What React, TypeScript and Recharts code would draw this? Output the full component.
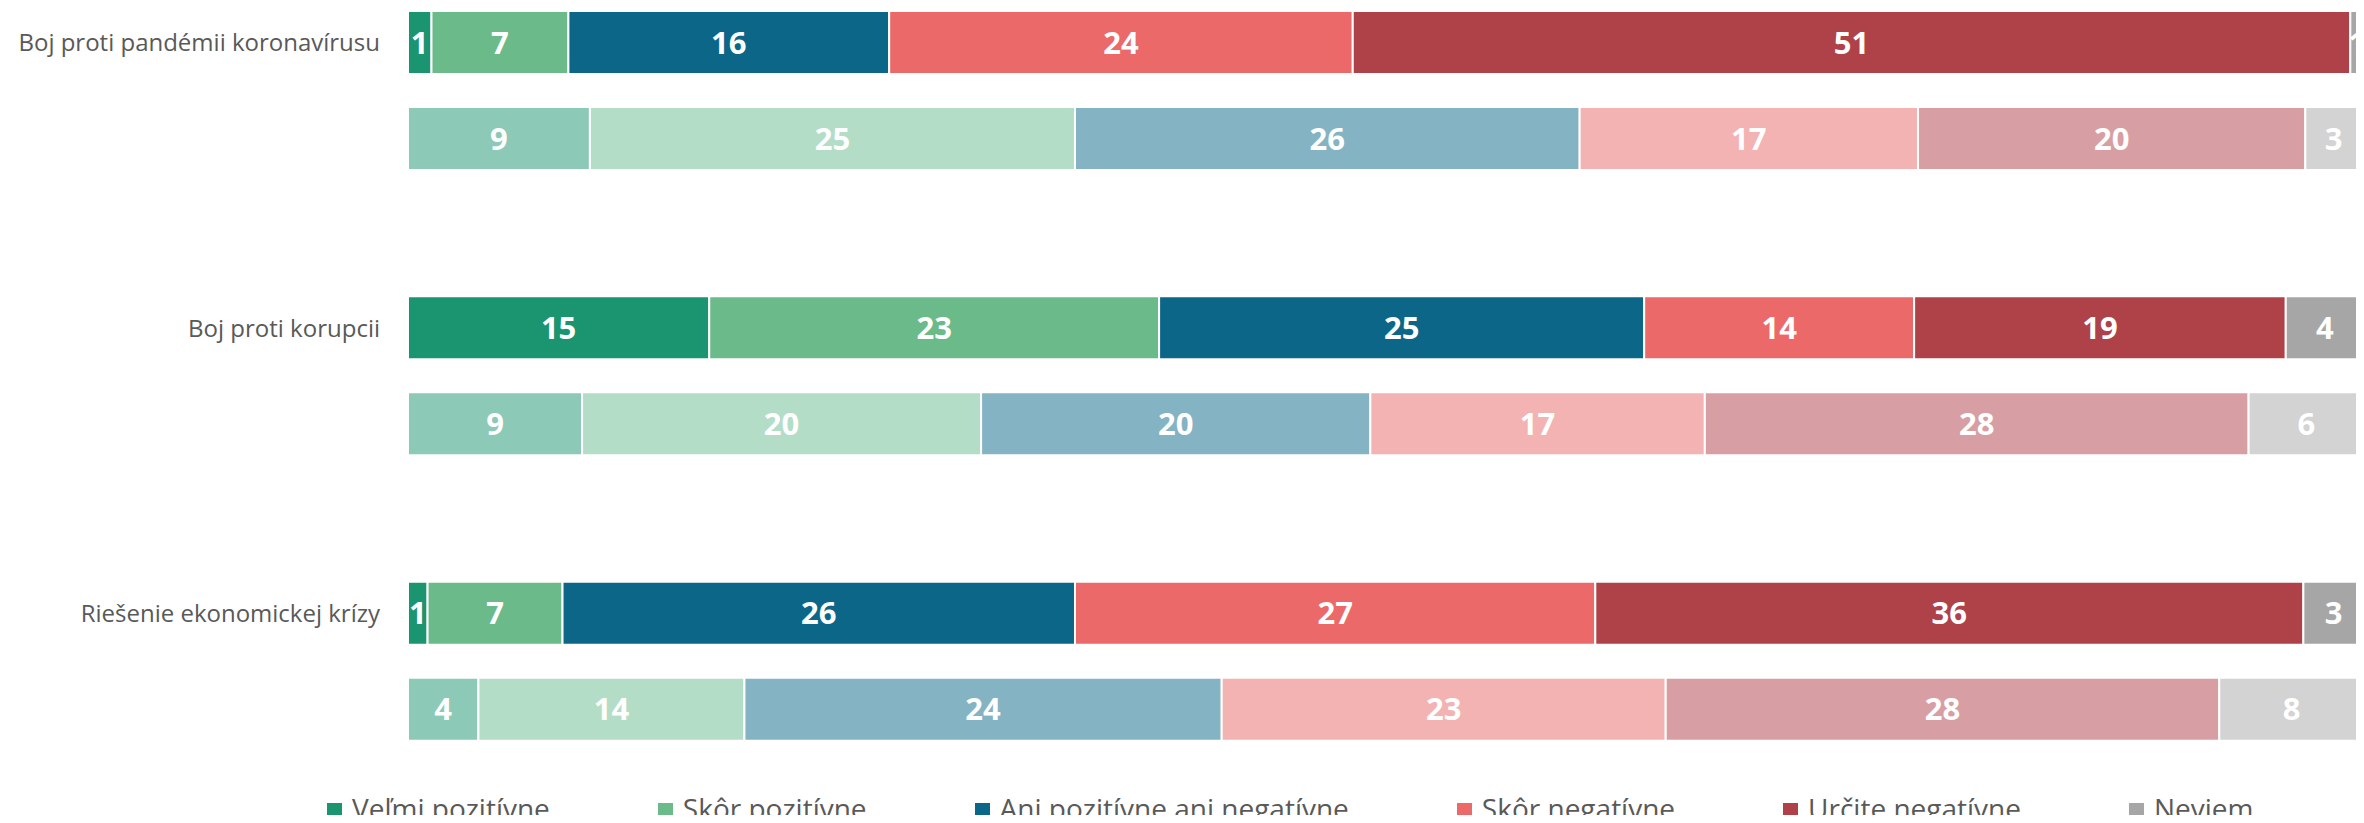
import { BarChart, Bar, XAxis, YAxis, LabelList, Legend } from "recharts"

const categories = [
  "Boj proti pandémii koronavírusu",
  "Boj proti korupcii",
  "Riešenie ekonomickej krízy",
]

const seriesNames = [
  "Veľmi pozitívne",
  "Skôr pozitívne",
  "Ani pozitívne ani negatívne",
  "Skôr negatívne",
  "Určite negatívne",
  "Neviem",
]

// upper (dark) bar of each pair, one list per category
const solidValues = [
  [1.2, 7.0, 16.4, 23.7, 51.0, 0.7],
  [15.4, 23.0, 24.8, 13.8, 19.0, 4.0],
  [1.0, 6.9, 26.2, 26.6, 36.2, 3.2],
]

// lower (light) bar of each pair
const lightValues = [
  [9.3, 24.8, 25.8, 17.3, 19.8, 2.9],
  [8.9, 20.4, 19.9, 17.1, 27.8, 5.9],
  [3.6, 13.6, 24.4, 22.7, 28.3, 7.6],
]

const solidColors = ["#1B9470", "#6BBB8A", "#0C6688", "#EB6969", "#AF4149", "#A6A6A6"]
const lightColors = ["#8DC9B7", "#B4DDC8", "#84B3C3", "#F3B3B3", "#D79FA3", "#D3D3D3"]

const FONT = "'Open Sans', 'Noto Sans', sans-serif"
const BAR = 63
const GAP = 33

const rows = categories.map((name, r) => {
  const row: Record<string, string | number> = { name }
  seriesNames.forEach((_, i) => {
    row[`s${i}`] = solidValues[r][i]
    row[`l${i}`] = lightValues[r][i]
  })
  return row
})

function CategoryTick({ x, y, payload }: any) {
  // label sits beside the upper bar of the pair, not the group centre
  return (
    <text
      x={x}
      y={y - (BAR + GAP) / 2}
      dy="0.36em"
      textAnchor="end"
      fill="#595959"
      fontSize={24}
      fontFamily={FONT}
    >
      {payload.value}
    </text>
  )
}

function LegendRow() {
  return (
    <div
      style={{
        display: "flex",
        alignItems: "center",
        paddingLeft: 319,
        columnGap: 108,
        fontFamily: FONT,
        fontSize: 28,
        lineHeight: "30px",
        color: "#595959",
        whiteSpace: "nowrap",
      }}
    >
      {seriesNames.map((n, i) => (
        <div key={n} style={{ display: "flex", alignItems: "center" }}>
          <span
            style={{
              display: "inline-block",
              width: 15,
              height: 15,
              marginTop: 5,
              marginRight: 10,
              background: solidColors[i],
            }}
          />
          <span>{n}</span>
        </div>
      ))}
    </div>
  )
}

const labelProps = {
  position: "center" as const,
  fill: "#ffffff",
  fontSize: 31,
  fontWeight: 700,
  fontFamily: FONT,
  formatter: (v: any) => Math.round(Number(v)),
}

export default function App() {
  return (
    <div style={{ width: 2356, height: 815, overflow: "hidden", marginBottom: -8 }}>
      <div style={{ position: "relative", top: -60 }}>
        <BarChart
          layout="vertical"
          width={2356}
          height={900}
          data={rows}
          margin={{ top: 0, right: 0, bottom: 44, left: 0 }}
          barSize={BAR}
          barGap={GAP}
        >
          <XAxis type="number" domain={[0, 100]} hide allowDataOverflow />
          <YAxis
            type="category"
            dataKey="name"
            width={400}
            axisLine={false}
            tickLine={false}
            tickSize={0}
            tickMargin={28}
            tick={(p: any) => <CategoryTick {...p} />}
          />
          {seriesNames.map((n, i) => (
            <Bar
              key={`s${i}`}
              dataKey={`s${i}`}
              name={n}
              stackId="solid"
              fill={solidColors[i]}
              stroke="#ffffff"
              strokeWidth={2}
              isAnimationActive={false}
            >
              <LabelList dataKey={`s${i}`} {...labelProps} />
            </Bar>
          ))}
          {seriesNames.map((n, i) => (
            <Bar
              key={`l${i}`}
              dataKey={`l${i}`}
              name={n}
              stackId="light"
              fill={lightColors[i]}
              stroke="#ffffff"
              strokeWidth={2}
              legendType="none"
              isAnimationActive={false}
            >
              <LabelList dataKey={`l${i}`} {...labelProps} />
            </Bar>
          ))}
          <Legend
            verticalAlign="middle"
            align="center"
            wrapperStyle={{ top: 845, left: 0, width: 2356 }}
            content={() => <LegendRow />}
          />
        </BarChart>
      </div>
    </div>
  )
}
